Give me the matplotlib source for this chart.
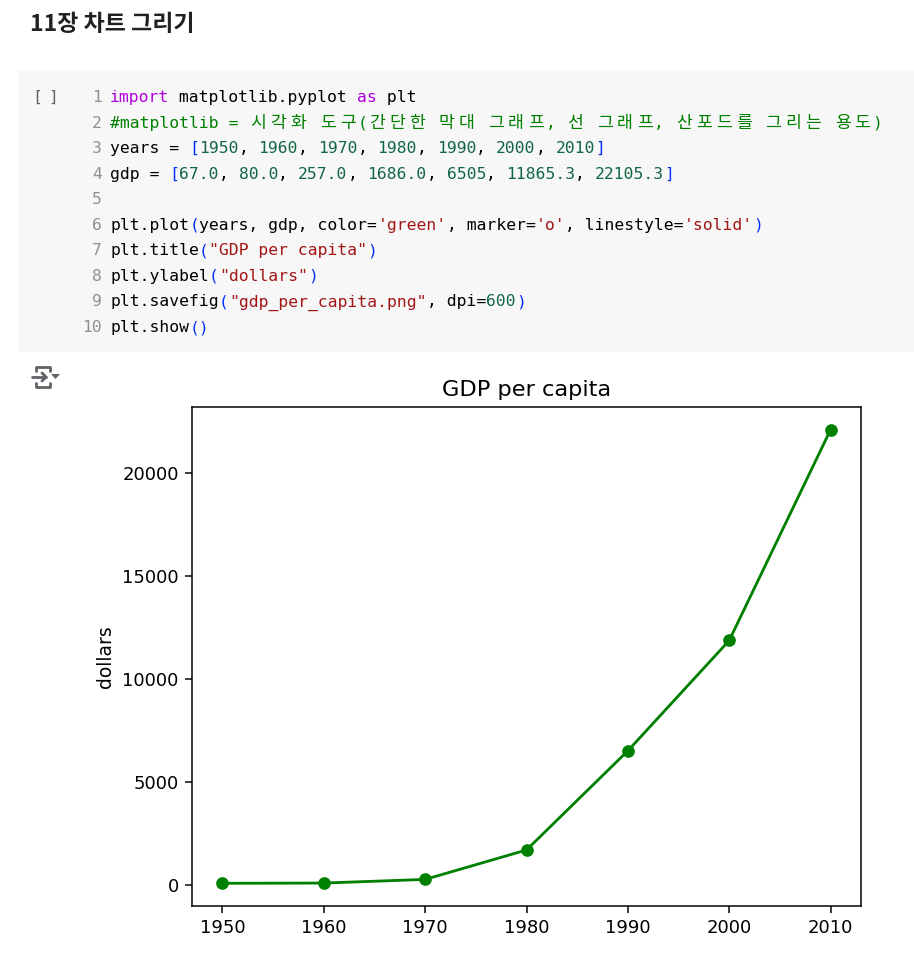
import matplotlib
matplotlib.use("Agg")
import matplotlib.pyplot as plt
from matplotlib.patches import Rectangle, Polygon
from matplotlib.lines import Line2D

# ---- data ----
years = [1950, 1960, 1970, 1980, 1990, 2000, 2010]
gdp = [67.0, 80.0, 257.0, 1686.0, 6505, 11865.3, 22105.3]
x_ticks = [1950, 1960, 1970, 1980, 1990, 2000, 2010]
y_ticks = [0, 5000, 10000, 15000, 20000]

heading = "11장 차트 그리기"
chart_title = "GDP per capita"
y_label = "dollars"

# code cell tokens: (text, kind)
code_lines = [
    [("import", "kw"), (" matplotlib.pyplot ", "d"), ("as", "kw"), (" plt", "d")],
    [("#matplotlib = 시각화 도구(간단한 막대 그래프, 선 그래프, 산포드를 그리는 용도)", "cm")],
    [("years = ", "d"), ("[", "br"), ("1950", "n"), (", ", "d"), ("1960", "n"), (", ", "d"),
     ("1970", "n"), (", ", "d"), ("1980", "n"), (", ", "d"), ("1990", "n"), (", ", "d"),
     ("2000", "n"), (", ", "d"), ("2010", "n"), ("]", "br")],
    [("gdp = ", "d"), ("[", "br"), ("67.0", "n"), (", ", "d"), ("80.0", "n"), (", ", "d"),
     ("257.0", "n"), (", ", "d"), ("1686.0", "n"), (", ", "d"), ("6505", "n"), (", ", "d"),
     ("11865.3", "n"), (", ", "d"), ("22105.3", "n"), ("]", "br")],
    [],
    [("plt.plot", "d"), ("(", "br"), ("years, gdp, color=", "d"), ("'green'", "s"),
     (", marker=", "d"), ("'o'", "s"), (", linestyle=", "d"), ("'solid'", "s"), (")", "br")],
    [("plt.title", "d"), ("(", "br"), ('"GDP per capita"', "s"), (")", "br")],
    [("plt.ylabel", "d"), ("(", "br"), ('"dollars"', "s"), (")", "br")],
    [("plt.savefig", "d"), ("(", "br"), ('"gdp_per_capita.png"', "s"), (", dpi=", "d"),
     ("600", "n"), (")", "br")],
    [("plt.show", "d"), ("()", "br")],
]

colors = {"kw": "#af00db", "d": "#000000", "cm": "#008000", "n": "#116644",
          "br": "#0431fa", "s": "#a31515"}

W, H = 914, 956
fig = plt.figure(figsize=(W / 100, H / 100), dpi=100)
fig.patch.set_facecolor("white")

bg = fig.add_axes([0, 0, 1, 1])
bg.set_xlim(0, W)
bg.set_ylim(H, 0)
bg.axis("off")

# heading
bg.text(30, 31, heading, fontsize=16.5, fontweight="bold", color="#212121",
        family=["Noto Sans CJK KR", "DejaVu Sans"], ha="left", va="baseline")

# code cell background
bg.add_patch(Rectangle((18, 70), W - 18, 282, facecolor="#f7f7f7", edgecolor="none"))
bg.text(32, 102, "[", fontsize=11.8, color="#616161", family="DejaVu Sans Mono",
        ha="left", va="baseline")
bg.text(58, 102, "]", fontsize=11.8, color="#616161", family="DejaVu Sans Mono",
        ha="right", va="baseline")

cw = 9.9
mono_size = cw / 0.602 * 72 / 100
x0 = 110
line_h = 25.56


def is_wide(ch):
    return ord(ch) >= 0x1100


for i, toks in enumerate(code_lines):
    yb = 102 + i * line_h
    bg.text(102, yb, str(i + 1), fontsize=mono_size, color="#8f8f8f",
            family="DejaVu Sans Mono", ha="right", va="baseline")
    col = 0
    for text, kind in toks:
        c = colors[kind]
        run = ""
        run_start = col
        for ch in text:
            if is_wide(ch):
                if run:
                    bg.text(x0 + run_start * cw, yb, run, fontsize=mono_size, color=c,
                            family="DejaVu Sans Mono", ha="left", va="baseline")
                    run = ""
                bg.text(x0 + (col + 1) * cw, yb, ch, fontsize=12.4, color=c,
                        family=["Noto Sans CJK KR", "DejaVu Sans"], ha="center", va="baseline")
                col += 2
                run_start = col
            else:
                if not run:
                    run_start = col
                run += ch
                col += 1
        if run:
            bg.text(x0 + run_start * cw, yb, run, fontsize=mono_size, color=c,
                    family="DejaVu Sans Mono", ha="left", va="baseline")

# output toggle icon
ic = "#5f6368"
lw = 2.0
bg.add_line(Line2D([36, 36, 50, 50], [371, 367, 367, 371], color=ic, lw=lw, solid_capstyle="round"))
bg.add_line(Line2D([36, 36, 50, 50], [383, 387, 387, 383], color=ic, lw=lw, solid_capstyle="round"))
bg.add_line(Line2D([32, 46], [377, 377], color=ic, lw=lw, solid_capstyle="round"))
bg.add_line(Line2D([42, 46, 42], [373, 377, 381], color=ic, lw=lw, solid_capstyle="round"))
bg.add_patch(Polygon([[51, 374], [60, 374], [55.5, 379]], closed=True, facecolor=ic, edgecolor="none"))

# chart
s = 1.35
ax = fig.add_axes([192 / W, (H - 906) / H, 669 / W, 499 / H])
ax.plot(years, gdp, color="green", marker="o", linestyle="solid", lw=1.5 * s, markersize=6 * s)
ax.set_title(chart_title, fontsize=12 * s, pad=6 * s)
ax.set_ylabel(y_label, fontsize=10 * s, labelpad=4 * s)
ax.set_xticks(x_ticks)
ax.set_yticks(y_ticks)
ax.tick_params(labelsize=13, length=3.5 * s, width=0.8 * s, pad=3.5 * s)
for sp in ax.spines.values():
    sp.set_linewidth(0.8 * s)

fig.savefig("out.png", dpi=100)
